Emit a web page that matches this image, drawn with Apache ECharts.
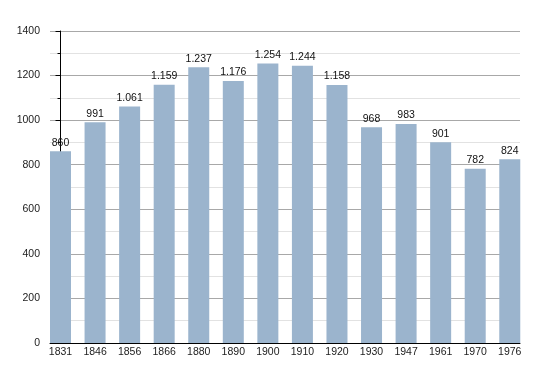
<!DOCTYPE html>
<html><head><meta charset="utf-8">
<script src="https://cdn.jsdelivr.net/npm/echarts@6/dist/echarts.min.js"></script>
<style>html,body{margin:0;padding:0;background:#fff}#c{width:550px;height:373px}</style>
</head><body><div id="c"></div>
<script>
const years = ['1831','1846','1856','1866','1880','1890','1900','1910','1920','1930','1947','1961','1970','1976'];
const population = [860, 991, 1061, 1159, 1237, 1176, 1254, 1244, 1158, 968, 983, 901, 782, 824];
const yTicks = [0, 200, 400, 600, 800, 1000, 1200, 1400];

function fmt(v){ return v >= 1000 ? Math.floor(v/1000) + '.' + String(v%1000).padStart(3,'0') : String(v); }

const chart = echarts.init(document.getElementById('c'), null, {renderer:'canvas'});
chart.setOption({
  animation:false,
  textStyle:{fontFamily:'Liberation Sans, Arial, sans-serif'},
  grid:{left:50, right:30, top:31, bottom:30},
  xAxis:{
    type:'value', min:-0.304, max:13.296,
    axisLine:{show:true, onZero:false, lineStyle:{color:'#000', width:1}},
    axisTick:{show:false},
    splitLine:{show:false},
    axisLabel:{customValues: years.map((_,i)=>i), formatter: v => years[Math.round(v)] ?? '', color:'#222', fontSize:10.5, margin:4}
  },
  yAxis:{
    type:'value', min:yTicks[0], max:yTicks[yTicks.length-1], interval:200,
    axisLine:{show:true, lineStyle:{color:'#000', width:1}},
    axisTick:{show:true, length:5, lineStyle:{color:'#000'}},
    minorTick:{show:true, splitNumber:2, length:3, lineStyle:{color:'#000'}},
    splitLine:{show:true, lineStyle:{color:'#a8a8a8', width:1}},
    minorSplitLine:{show:true, lineStyle:{color:'#e2e2e2', width:1}},
    axisLabel:{color:'#222', fontSize:10.5, margin:10, formatter: v => String(v)}
  },
  series:[{
    type:'bar',
    data: population.map((v,i)=>[i,v]),
    barWidth:21,
    itemStyle:{color:'#9bb4cd'},
    label:{show:true, position:'top', distance:3, color:'#111', fontSize:10.5, formatter: p => fmt(p.value[1])}
  }]
});
</script></body></html>
